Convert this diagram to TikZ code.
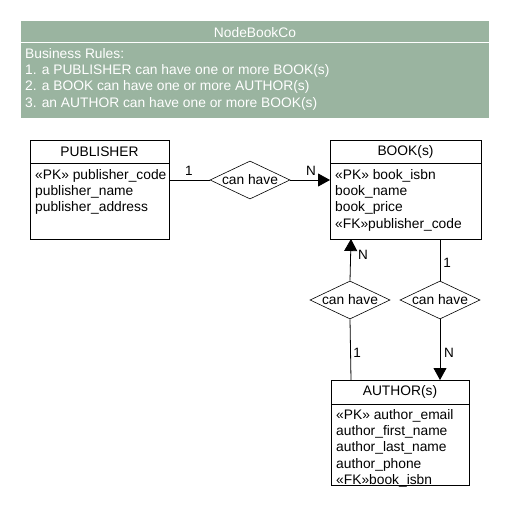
\documentclass[tikz,border=0pt]{standalone}
\usepackage{fontspec}
\setmainfont{Liberation Sans}
\usetikzlibrary{shapes.geometric,arrows.meta}
\definecolor{hdr}{RGB}{154,180,160}
\begin{document}
\begin{tikzpicture}[x=1pt,y=-1pt,
  every node/.style={font=\fontsize{13.8}{16.3}\selectfont, inner sep=0pt},
  ent/.style={draw=black, line width=0.8pt},
  rel/.style={draw=black, diamond, aspect=2.1, minimum width=80pt, minimum height=38pt, line width=0.6pt, inner sep=0pt},
  lnk/.style={line width=0.8pt},
  arr/.style={line width=0.8pt, -{Triangle[length=12pt,width=13pt]}},
  card/.style={font=\fontsize{13.5}{16}\selectfont}]
\useasboundingbox (0,0) rectangle (510,510);
\fill[white] (0,0) rectangle (510,510);
% header
\fill[hdr] (21,21) rectangle (489,118);
\draw[white, line width=1pt] (21,43) -- (489,43);
\node[text=white, anchor=center] (title) at (255,33) {NodeBookCo};
\node[text=white, anchor=north west, align=left] (rules) at (25,48)
 {Business Rules:\\1. a PUBLISHER can have one or more BOOK(s)\\2. a BOOK can have one or more AUTHOR(s)\\3. an AUTHOR can have one or more BOOK(s)};
% PUBLISHER
\draw[ent] (30,140) rectangle (169,239);
\draw[ent] (30,163) -- (169,163);
\coordinate (pubR) at (169,180);
\node (pubT) at (99.5,152) {PUBLISHER};
\node[anchor=north west, align=left] (pubA) at (35,169) {«PK» publisher\_code\\publisher\_name\\publisher\_address};
% BOOK
\draw[ent] (330,140) rectangle (481,239);
\draw[ent] (330,163) -- (481,163);
\coordinate (bookL) at (330,180);
\coordinate (bookB1) at (351,239);
\coordinate (bookB2) at (440,239);
\node (bookT) at (405.5,152) {BOOK(s)};
\node[anchor=north west, align=left] (bookA) at (335,169) {«PK» book\_isbn\\book\_name\\book\_price\\«FK»publisher\_code};
% AUTHOR
\draw[ent] (331,380) rectangle (469,485);
\draw[ent] (331,404) -- (469,404);
\coordinate (authT1) at (351,380);
\coordinate (authT2) at (440,380);
\node (authT) at (400,392) {AUTHOR(s)};
\node[anchor=north west, align=left] (authA) at (336,409) {«PK» author\_email\\author\_first\_name\\author\_last\_name\\author\_phone\\«FK»book\_isbn};
% relationships
\node[rel] (r1) at (250,180) {can have};
\node[rel] (r2) at (350,300) {can have};
\node[rel] (r3) at (440,300) {can have};
\draw[lnk] (pubR) -- (r1.west);
\draw[arr] (r1.east) -- (bookL);
\draw[arr] (authT1) -- (r2.south) (r2.north) -- (bookB1);
\draw[lnk] (bookB2) -- (r3.north);
\draw[arr] (r3.south) -- (authT2);
% cardinalities
\node[card] (c1) at (189,171) {1};
\node[card] (c2) at (311,171) {N};
\node[card] (c3) at (363,255) {N};
\node[card] (c4) at (357,353) {1};
\node[card] (c5) at (447,263) {1};
\node[card] (c6) at (449,353) {N};
\end{tikzpicture}
\end{document}
